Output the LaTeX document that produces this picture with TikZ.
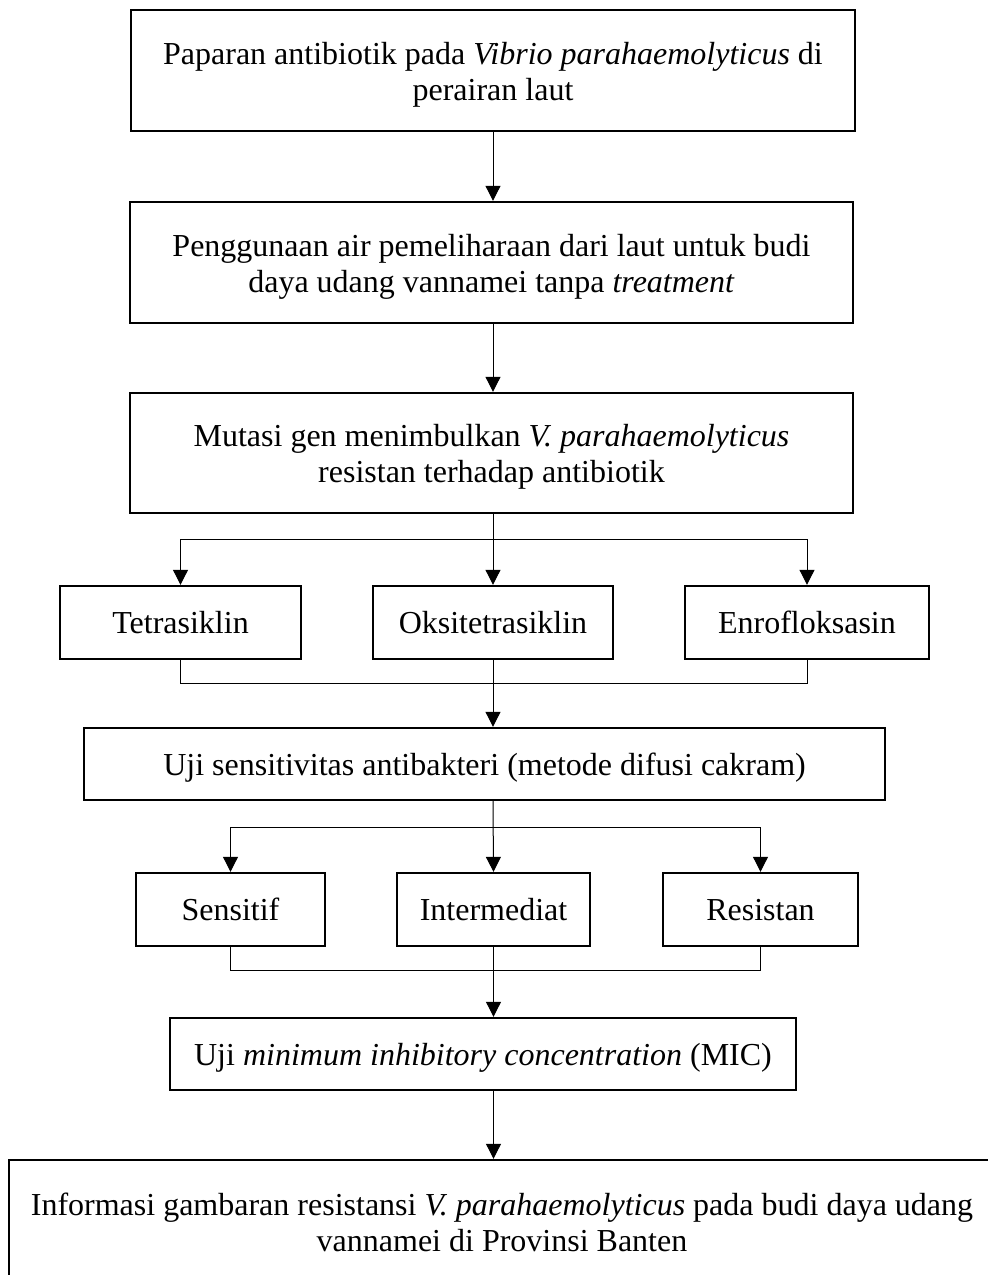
\documentclass[tikz,border=0pt]{standalone}
\usepackage{fontspec}
\setmainfont{Liberation Serif}
\usepackage{xcolor}
\usepackage{tikz}
\usetikzlibrary{positioning,arrows.meta,calc}
\definecolor{ink}{HTML}{000000}
\tikzset{
  box/.style={draw=ink, line width=1.2pt, align=center, inner sep=0pt, text=ink, font=\fontsize{16}{18}\selectfont},
  twoline/.style={box, text height=30pt, text depth=0.5pt},
  oneline/.style={box, text height=14pt, text depth=3pt},
  conn/.style={draw=ink, line width=0.5pt},
  arr/.style={conn, -{Triangle[length=7.5pt, width=7.5pt]}},
}
\begin{document}
\begin{tikzpicture}[x=0.5pt, y=-0.5pt]
\useasboundingbox (0,0) rectangle (987,1275);
% main column
\node[twoline, minimum width=362pt, minimum height=60.5pt] (paparan) at (493,70.5) {Paparan antibiotik pada \textit{Vibrio parahaemolyticus} di\\perairan laut};
\node[twoline, minimum width=361.5pt, minimum height=60.5pt] (air) at (491.5,262.5) {Penggunaan air pemeliharaan dari laut untuk budi\\daya udang vannamei tanpa \textit{treatment}};
\node[twoline, minimum width=361.5pt, minimum height=60pt] (mutasi) at (491.5,453) {Mutasi gen menimbulkan \textit{V. parahaemolyticus}\\resistan terhadap antibiotik};
% antibiotics
\node[oneline, minimum width=120.5pt, minimum height=36.5pt] (tetra) at (180.5,622.5) {Tetrasiklin};
\node[oneline, minimum width=120pt, minimum height=36.5pt] (oksi) at (493,622.5) {Oksitetrasiklin};
\node[oneline, minimum width=122pt, minimum height=36.5pt] (enro) at (807,622.5) {Enrofloksasin};
\node[oneline, minimum width=400.5pt, minimum height=36pt] (uji) at (484.5,764) {Uji sensitivitas antibakteri (metode difusi cakram)};
% results
\node[oneline, minimum width=94.5pt, minimum height=36.5pt] (sens) at (230.5,909.5) {Sensitif};
\node[oneline, minimum width=96.5pt, minimum height=36.5pt] (inter) at (493.5,909.5) {Intermediat};
\node[oneline, minimum width=97.5pt, minimum height=36.5pt] (resis) at (760.5,909.5) {Resistan};
\node[oneline, minimum width=313pt, minimum height=36pt] (mic) at (483,1054) {Uji \textit{minimum inhibitory concentration} (MIC)};
\node[twoline, minimum width=493pt, minimum height=62pt] (info) at (502,1222) {Informasi gambaran resistansi \textit{V. parahaemolyticus} pada budi daya udang\\vannamei di Provinsi Banten};
% junctions
\coordinate (split1) at (493,539);
\coordinate (merge1) at (493,683);
\coordinate (split2) at (493,827);
\coordinate (merge2) at (493,970);
% connectors
\draw[arr] (paparan.south) -- (paparan.south |- air.north);
\draw[arr] (paparan.south |- air.south) -- (paparan.south |- mutasi.north);
\draw[arr] (mutasi.south -| oksi) -- (oksi.north);
\draw[arr] (split1) -| (tetra.north);
\draw[arr] (split1) -| (enro.north);
\draw[conn] (tetra.south) |- (merge1) -| (enro.south);
\draw[arr] (oksi.south) -- (oksi.south |- uji.north);
\draw[arr] (oksi.south |- uji.south) -- (inter.north);
\draw[arr] (split2) -| (sens.north);
\draw[arr] (split2) -| (resis.north);
\draw[conn] (sens.south) |- (merge2) -| (resis.south);
\draw[arr] (inter.south) -- (inter.south |- mic.north);
\draw[arr] (inter.south |- mic.south) -- (inter.south |- info.north);
\end{tikzpicture}
\end{document}
